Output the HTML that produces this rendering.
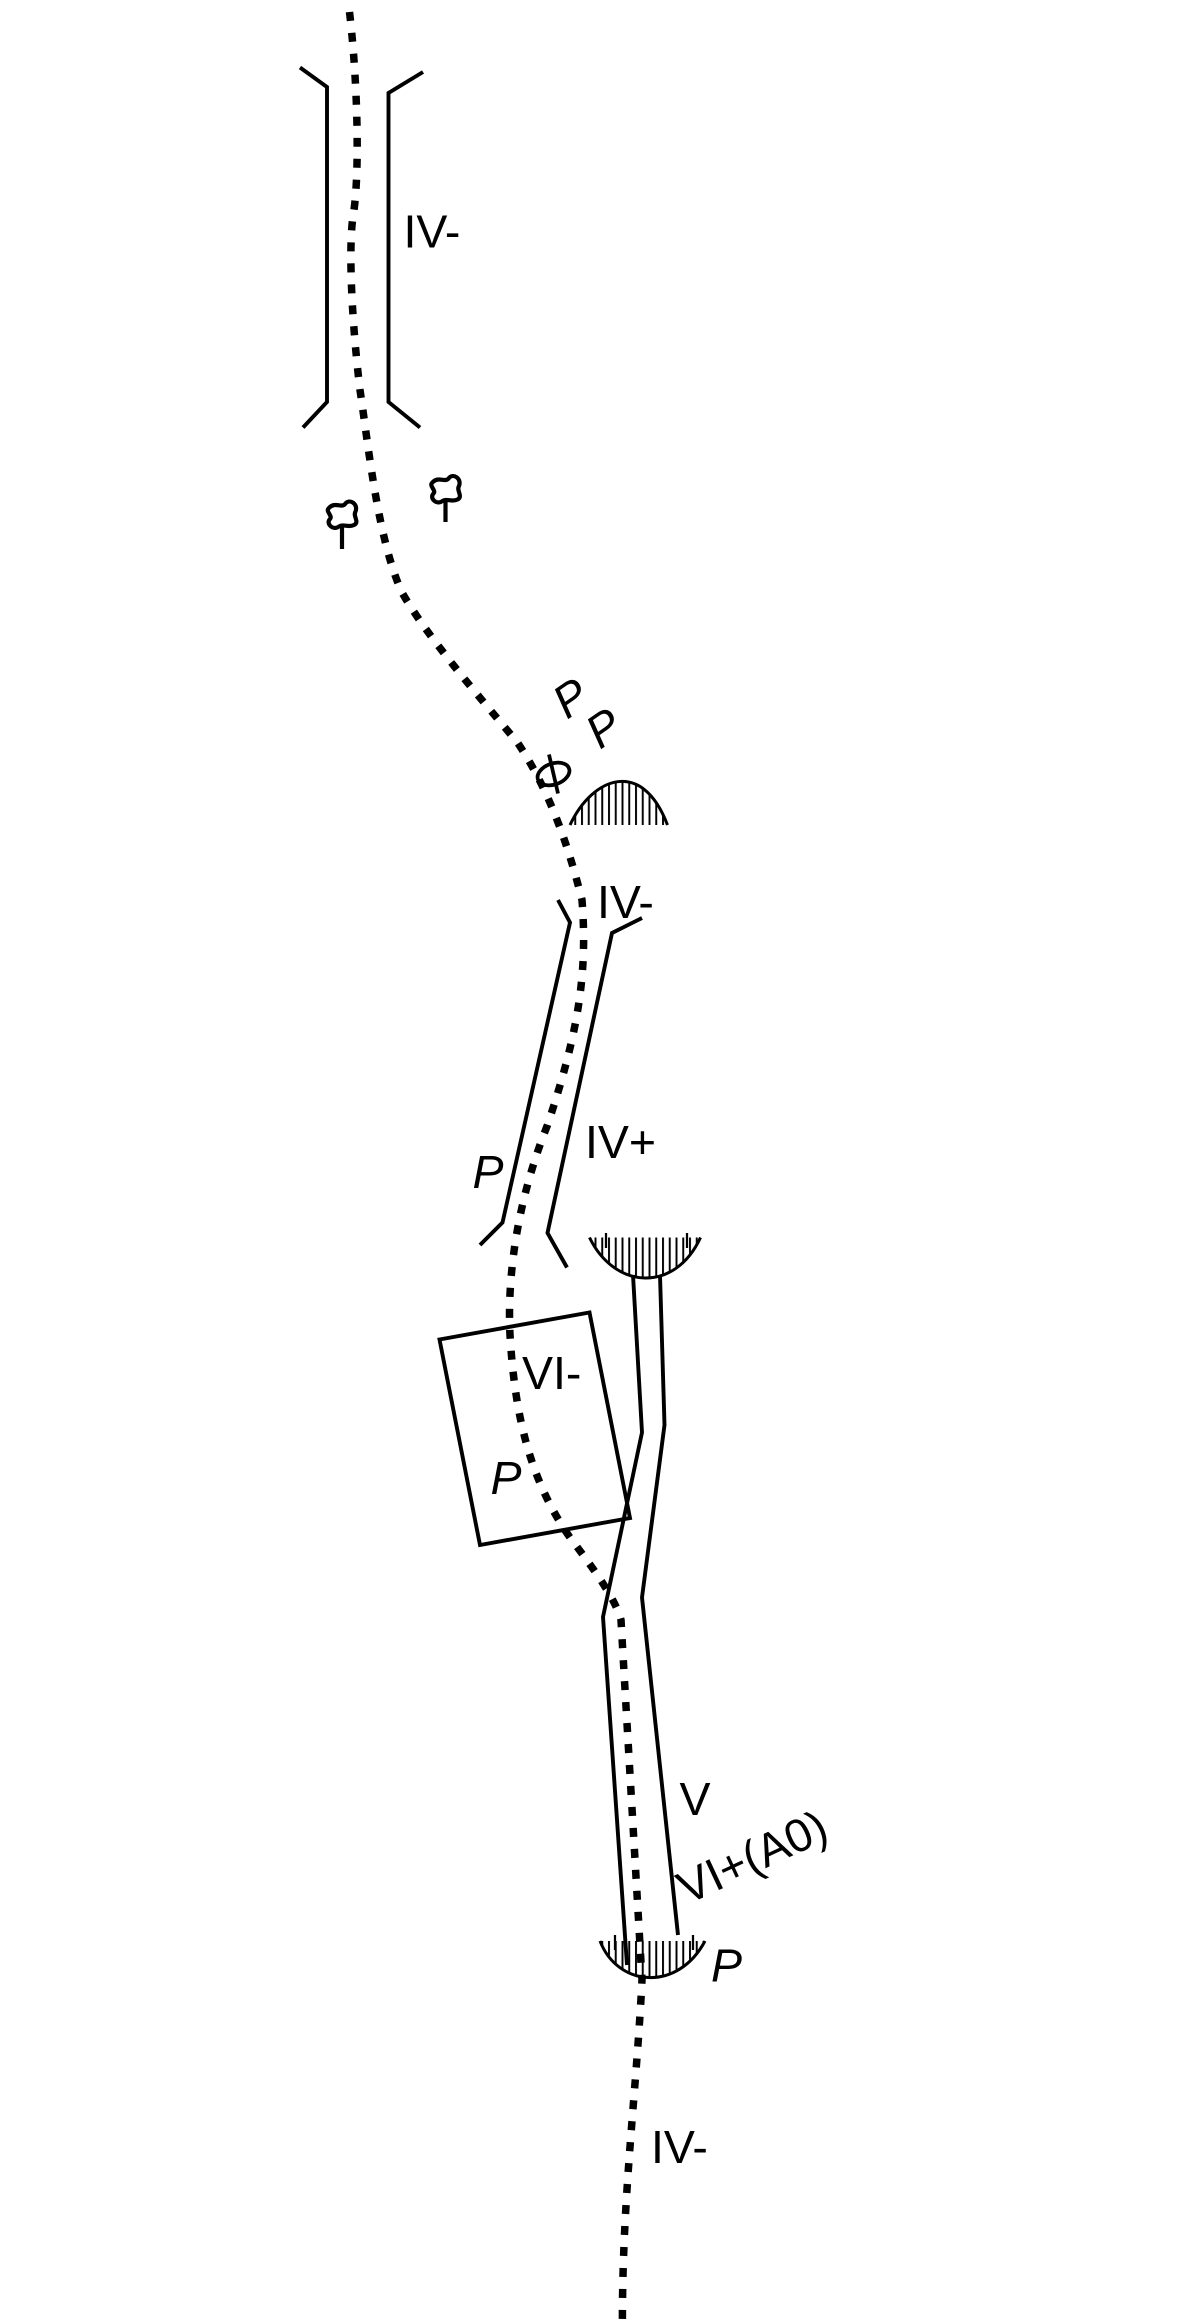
<!DOCTYPE html>
<html><head><meta charset="utf-8"><style>
html,body{margin:0;padding:0;background:#fff;}
svg{display:block;}
text{font-family:"Liberation Sans",sans-serif;fill:#000;}
</style></head><body>
<svg width="1200" height="2320" viewBox="0 0 800 1546.67" xmlns="http://www.w3.org/2000/svg">
<defs>
<pattern id="h" width="4.5" height="10" patternUnits="userSpaceOnUse"><line x1="1" y1="0" x2="1" y2="10" stroke="#000" stroke-width="1.3"/></pattern>
</defs>
<g fill="none" stroke="#000" stroke-linecap="butt">
<path d="M233,8 C238,50 240,110 236,140 C232,160 234,210 240,260 C246,300 252,360 268,395 C285,425 320,465 345,495 C365,525 378,560 388,600 C392,650 385,690 365,750 C345,800 338,850 340,890 C343,940 352,985 380,1025 C395,1045 410,1065 414,1080 C418,1150 424,1250 428,1320 C424,1400 414,1470 415,1560" stroke-width="5" stroke-dasharray="6,8"/>
<g stroke-width="2.6">
<polyline points="200,45 218,58 218,268 202,285"/>
<polyline points="282,48 259,62 259,268 280,285"/>
<polyline points="372,600 380,615 335,815 320,830"/>
<polyline points="428,612 408,622 365,822 378,845"/>
<polyline points="422,850 428,955 402,1078 418,1310"/>
<polyline points="440,850 443,950 428,1065 452,1290"/>
<polygon points="293,893 393,875 420,1012 320,1030"/>
</g>
<g stroke-width="2.8">
<path d="M219,339 c4,-5 9,0 11,-3 c3,-4 9,0 7,5 c-2,3 3,7 -1,9 c-4,2 -7,-1 -10,1 c-4,3 -9,-2 -6,-5 c2,-2 -3,-5 -1,-7z"/>
<line x1="228" y1="350" x2="228" y2="366"/>
<path d="M288,322 c4,-5 9,0 11,-3 c3,-4 9,0 7,5 c-2,3 3,7 -1,9 c-4,2 -7,-1 -10,1 c-4,3 -9,-2 -6,-5 c2,-2 -3,-5 -1,-7z"/>
<line x1="297" y1="333" x2="297" y2="348"/>
</g>
<path d="M380,550 C395,518 428,505 445,550 Z" fill="url(#h)" stroke="none"/>
<path d="M380,550 C395,518 428,505 445,550" stroke-width="2"/>
<path d="M393,825 C410,860 450,862 467,825 Z" fill="url(#h)" stroke="none"/>
<path d="M393,825 C410,860 450,862 467,825" stroke-width="2"/>
<path d="M400,1294 C412,1325 452,1328 470,1294 Z" fill="url(#h)" stroke="none"/>
<path d="M400,1294 C412,1325 452,1328 470,1294" stroke-width="2"/>
<g stroke-width="1.5"><line x1="404" y1="822" x2="404" y2="832"/><line x1="458" y1="822" x2="458" y2="832"/><line x1="410" y1="1290" x2="410" y2="1300"/><line x1="462" y1="1290" x2="462" y2="1300"/></g>
<ellipse cx="369" cy="516" rx="11" ry="7" transform="rotate(-20 369 516)" stroke-width="2.5"/>
<line x1="366" y1="503" x2="372" y2="529" stroke-width="2.5"/>
</g>
<g font-size="31">
<text x="269" y="165">IV-</text>
<text x="398" y="612">IV-</text>
<text x="390" y="772">IV+</text>
<text x="348" y="926">VI-</text>
<text x="453" y="1210">V</text>
<text x="434" y="1442">IV-</text>
<text transform="translate(458,1270) rotate(-25)">VI+(A0)</text>
<g font-style="italic">
<text transform="translate(378,480) rotate(-35)">P</text>
<text transform="translate(400,500) rotate(-35)">P</text>
<text x="315" y="792">P</text>
<text x="327" y="996">P</text>
<text x="474" y="1321">P</text>
</g>
</g>
</svg>
</body></html>
